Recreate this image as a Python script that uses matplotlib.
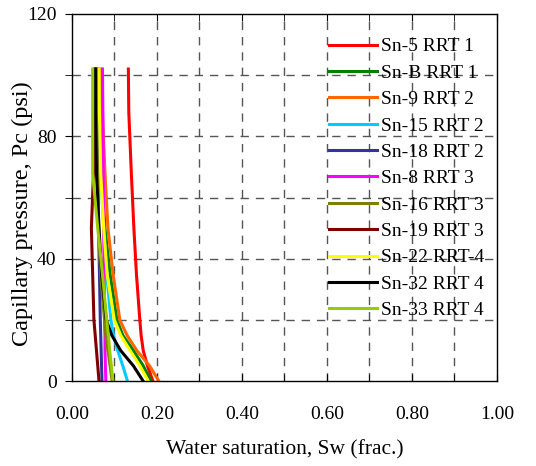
import numpy as np
import matplotlib
matplotlib.use("Agg")
import matplotlib.pyplot as plt
from matplotlib.ticker import MultipleLocator

plt.rcParams['font.family'] = ['Liberation Serif', 'DejaVu Serif']

# capillary pressure steps (psi)
pc = [0, 5, 10, 15, 20, 35, 50, 68, 88, 102]

labels = ["Sn-5 RRT 1", "Sn-B RRT 1", "Sn-9 RRT 2", "Sn-15 RRT 2", "Sn-18 RRT 2",
          "Sn-8 RRT 3", "Sn-16 RRT 3", "Sn-19 RRT 3", "Sn-22 RRT-4", "Sn-32 RRT 4",
          "Sn-33 RRT 4"]
colors = ["#ff0000", "#008000", "#ff6600", "#00ccff", "#333399",
          "#ff00ff", "#808000", "#800000", "#ffff00", "#000000",
          "#99cc00"]

sw_sn5 = [0.191, 0.178, 0.168, 0.163, 0.160, 0.152, 0.146, 0.140, 0.134, 0.133]
sw_snb = [0.187, 0.168, 0.145, 0.120, 0.106, 0.090, 0.078, 0.070, 0.066, 0.063]
sw_sn9 = [0.205, 0.183, 0.153, 0.130, 0.113, 0.097, 0.085, 0.078, 0.072, 0.070]
sw_sn15 = [0.131, 0.120, 0.108, 0.098, 0.092, 0.082, 0.075, 0.068, 0.064, 0.062]
sw_sn18 = [0.071, 0.070, 0.069, 0.068, 0.067, 0.065, 0.063, 0.061, 0.059, 0.058]
sw_sn8 = [0.080, 0.079, 0.078, 0.078, 0.077, 0.076, 0.075, 0.074, 0.073, 0.072]
sw_sn16 = [0.095, 0.090, 0.085, 0.080, 0.077, 0.068, 0.063, 0.060, 0.058, 0.057]
sw_sn19 = [0.064, 0.061, 0.058, 0.055, 0.052, 0.049, 0.046, 0.051, 0.052, 0.053]
sw_sn22 = [0.180, 0.160, 0.137, 0.115, 0.100, 0.083, 0.075, 0.068, 0.065, 0.064]
sw_sn32 = [0.168, 0.145, 0.115, 0.094, 0.081, 0.070, 0.064, 0.058, 0.056, 0.056]
sw_sn33 = [0.097, 0.093, 0.089, 0.086, 0.082, 0.072, 0.061, 0.049, 0.049, 0.049]

series = [sw_sn5, sw_snb, sw_sn9, sw_sn15, sw_sn18, sw_sn8, sw_sn16, sw_sn19,
          sw_sn22, sw_sn32, sw_sn33]

fig = plt.figure(figsize=(5.36, 4.66), dpi=100)
ax = fig.add_axes([0.134, 0.182, 0.793, 0.788])

for sw, lab, c in zip(series, labels, colors):
    ax.plot(sw, pc, color=c, lw=2.2, label=lab)

ax.set_xlim(0, 1.0)
ax.set_ylim(0, 120)
ax.xaxis.set_major_locator(MultipleLocator(0.2))
ax.xaxis.set_minor_locator(MultipleLocator(0.1))
ax.yaxis.set_major_locator(MultipleLocator(40))
ax.yaxis.set_minor_locator(MultipleLocator(20))
ax.set_xticklabels([f"{v:.2f}" for v in ax.get_xticks()])

for gx in np.arange(0.1, 1.0, 0.1):
    ax.axvline(gx, color="#555555", lw=1.0, ls=(0, (6, 5)), zorder=0)
for gy in range(20, 120, 20):
    ax.axhline(gy, color="#555555", lw=1.0, ls=(0, (6, 5)), zorder=0)

ax.tick_params(axis='x', which='both', direction='in', top=True, length=5, labelsize=14, pad=18)
ax.tick_params(axis='y', which='both', direction='out', length=5, labelsize=14, pad=6)
for sp in ax.spines.values():
    sp.set_linewidth(1.0)

ax.set_xlabel("Water saturation, Sw (frac.)", fontsize=15.5, labelpad=12)
ax.set_ylabel("Capillary pressure, Pc (psi)", fontsize=17.5)
ax.yaxis.set_label_coords(-0.092, 0.457)

ax.legend(loc='upper left', bbox_to_anchor=(0.605, 0.935), frameon=False,
          fontsize=14, handlelength=2.47, handletextpad=0.2, labelspacing=0.45,
          borderaxespad=0, borderpad=0)

fig.savefig("out.png", dpi=100)
